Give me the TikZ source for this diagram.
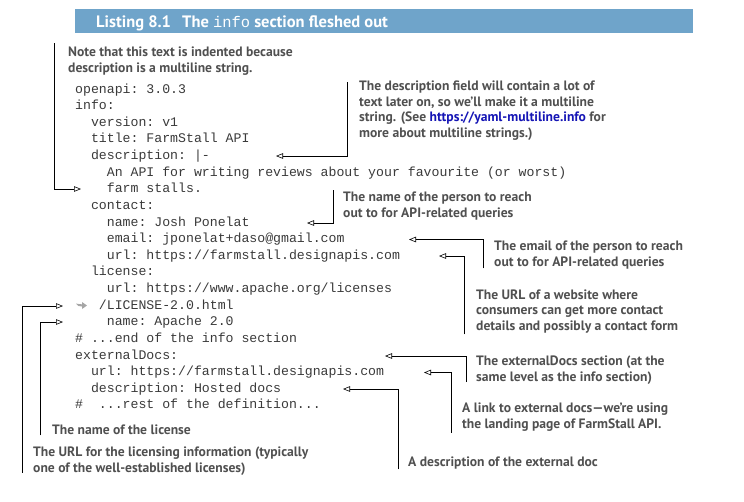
\documentclass[tikz,border=0pt]{standalone}
\usepackage{fontspec}
\setmonofont{Liberation Mono}
\newfontfamily\notefont{PT Sans}
\usepackage{tikz}
\usetikzlibrary{arrows.meta}
\definecolor{bannerblue}{HTML}{6FA4CA}
\definecolor{notegray}{HTML}{505050}
\definecolor{codegray}{HTML}{3A3A3A}
\definecolor{linkblue}{HTML}{1515B5}
\tikzset{
	codetext/.style={anchor=base west, inner sep=0pt, text=codegray,
		font=\fontsize{13.2}{16}\selectfont\ttfamily},
	notetext/.style={anchor=base west, inner sep=0pt, align=left, text=notegray,
		font=\fontsize{13.6}{15.7}\selectfont\notefont\bfseries},
	titletext/.style={anchor=base west, inner sep=0pt, text=white,
		font=\fontsize{16.5}{16}\selectfont\notefont\bfseries},
	callout/.style={draw=black, line width=1pt,
		-{Triangle[open, length=7pt, width=5.5pt, line width=0.6pt]}},
}
\newcommand{\codeline}[4]{% name, row, indent, text
	\node[codetext] (#1) at ({75 + 7.92*#3}, {93 + 16.63*#2}) {#4};
}

\begin{document}
\begin{tikzpicture}[x=1pt, y=-1pt]
\useasboundingbox (0,0) rectangle (744,501);

% banner
\fill[bannerblue] (75,9) rectangle (693,33);
\node[titletext] (lstnum) at (96,27) {Listing 8.1};
\node[titletext] (lsttitle) at (182,27)
	{The {\fontsize{15.4}{16}\selectfont\ttfamily\mdseries info} section fleshed out};

% code
\codeline{lopenapi}{0}{0}{openapi: 3.0.3}
\codeline{linfo}{1}{0}{info:}
\codeline{lversion}{2}{2}{version: v1}
\codeline{ltitle}{3}{2}{title: FarmStall API}
\codeline{ldesc}{4}{2}{description: |-}
\codeline{ldesca}{5}{4}{An API for writing reviews about your favourite (or worst)}
\codeline{ldescb}{6}{4}{farm stalls.}
\codeline{lcontact}{7}{2}{contact:}
\codeline{lname}{8}{4}{name: Josh Ponelat}
\codeline{lemail}{9}{4}{email: jponelat+daso@gmail.com}
\codeline{lurl}{10}{4}{url: https://farmstall.designapis.com}
\codeline{llicense}{11}{2}{license:}
\codeline{llicurl}{12}{4}{url: https://www.apache.org/licenses}
\codeline{llicurlb}{13}{3}{/LICENSE-2.0.html}
\codeline{llicname}{14}{4}{name: Apache 2.0}
\codeline{lend}{15}{0}{\# ...end of the info section}
\codeline{lextdocs}{16}{0}{externalDocs:}
\codeline{lexturl}{17}{2}{url: https://farmstall.designapis.com}
\codeline{lextdesc}{18}{2}{description: Hosted docs}
\codeline{lrest}{19}{0}{\#\ \ ...rest of the definition...}
% wrap mark
\fill[black!35] (76,303.5) .. controls (77,306) and (79,306.5) .. (82,306.5)
	-- (82,309) -- (87,305.5) -- (82,302) -- (82,304.3)
	.. controls (80,304.3) and (78,304) .. (76,303.5) -- cycle;

% arrow tips
\coordinate (tindent) at (81,189);
\coordinate (tdesc) at (276,156);
\coordinate (tname) at (307,223);
\coordinate (temail) at (409,239.5);
\coordinate (turl) at (439,256);
\coordinate (tlicurl) at (63,306);
\coordinate (tlicname) at (63,322);
\coordinate (textdocs) at (385,356);
\coordinate (texturl) at (424,372.5);
\coordinate (textdesc) at (343,389);

% notes (placed at the baseline of their last line)
\node[notetext] (nindent) at (68,72.2) {Note that this text is indented because\\description is a multiline string.};
\node[notetext] (ndesc) at (359,137.5) {The description field will contain a lot of\\text later on, so we’ll make it a multiline\\string. (See \textcolor{linkblue}{https://yaml-multiline.info} for\\more about multiline strings.)};
\node[notetext] (nname) at (343,217.5) {The name of the person to reach\\out to for API-related queries};
\node[notetext] (nemail) at (494,266.5) {The email of the person to reach\\out to for API-related queries};
\node[notetext] (nurl) at (476,330.5) {The URL of a website where\\consumers can get more contact\\details and possibly a contact form};
\node[notetext] (nextdocs) at (476,381.5) {The externalDocs section (at the\\same level as the info section)};
\node[notetext] (nexturl) at (462,428.5) {A link to external docs—we’re using\\the landing page of FarmStall API.};
\node[notetext] (nextdesc) at (408,466.5) {A description of the external doc};
\node[notetext] (nlicname) at (52,434.5) {The name of the license};
\node[notetext] (nlicurl) at (33,472.5) {The URL for the licensing information (typically\\one of the well-established licenses)};

% callouts
\draw[callout] ([shift={(-14,-3.5)}]nindent.north west) |- (tindent);
\draw[callout] ([shift={(-12,1.5)}]ndesc.north west) |- (tdesc);
\draw[callout] ([shift={(-10,-1.5)}]nname.north west) |- (tname);
\draw[callout] ([shift={(-11,-1)}]nemail.south west) |- (temail);
\draw[callout] ([shift={(-12,1)}]nurl.south west) |- (turl);
\draw[callout] ([shift={(-10,-2.5)}]nextdocs.south west) |- (textdocs);
\draw[callout] ([shift={(-11,1)}]nexturl.south west) |- (texturl);
\draw[callout] ([shift={(-10,0)}]nextdesc.south west) |- (textdesc);
\draw[callout] ([shift={(-12,0.5)}]nlicname.south west) |- (tlicname);
\draw[callout] ([shift={(-11,-3)}]nlicurl.south west) |- (tlicurl);

\end{tikzpicture}
\end{document}
